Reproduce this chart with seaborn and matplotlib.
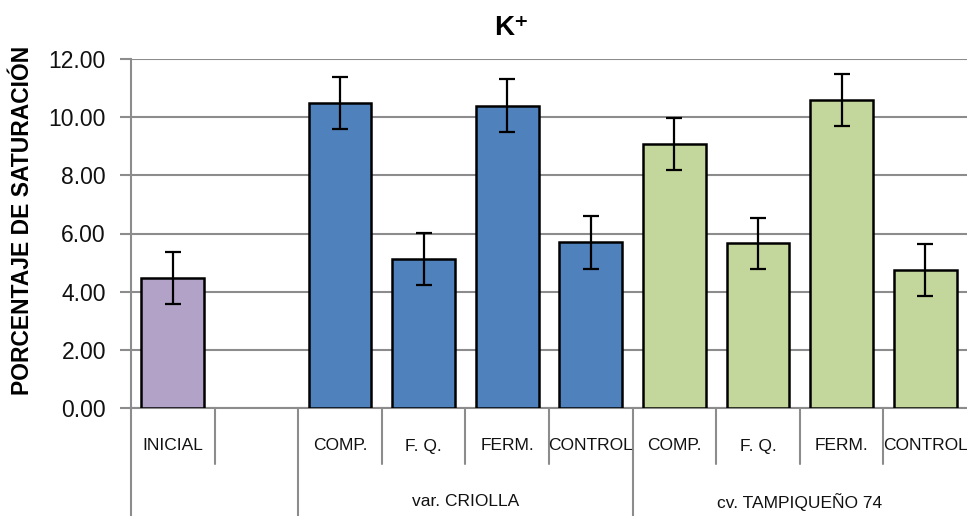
import matplotlib
matplotlib.use("Agg")
import matplotlib.pyplot as plt
import matplotlib.transforms as mtransforms
import seaborn as sns
import pandas as pd
import numpy as np

# ---- data ----
categories = ["INICIAL", "", "COMP.", "F. Q.", "FERM.", "CONTROL", "COMP.", "F. Q.", "FERM.", "CONTROL"]
groups = ["", "", "var. CRIOLLA", "var. CRIOLLA", "var. CRIOLLA", "var. CRIOLLA",
          "cv. TAMPIQUEÑO 74", "cv. TAMPIQUEÑO 74", "cv. TAMPIQUEÑO 74", "cv. TAMPIQUEÑO 74"]
values = [4.47, np.nan, 10.49, 5.13, 10.40, 5.70, 9.09, 5.66, 10.58, 4.75]
errors = [0.89, np.nan, 0.90, 0.90, 0.90, 0.91, 0.89, 0.89, 0.90, 0.90]
colors = ["#B3A2C7", "#FFFFFF", "#4F81BD", "#4F81BD", "#4F81BD", "#4F81BD",
          "#C3D69B", "#C3D69B", "#C3D69B", "#C3D69B"]
yticks = [0, 2, 4, 6, 8, 10, 12]
title = "K\u207A"
ylabel = "PORCENTAJE DE SATURACIÓN"

sns.set_theme(style="white")
plt.rcParams["font.family"] = ["Liberation Sans", "DejaVu Sans"]

keys = [f"{g}|{c}|{i}" for i, (g, c) in enumerate(zip(groups, categories))]
df = pd.DataFrame({"key": keys, "value": values})
df_plot = df.dropna()
palette = {k: col for k, col in zip(keys, colors)}

fig = plt.figure(figsize=(9.67, 5.16), dpi=100)
ax = fig.add_axes([131 / 967, 1 - 408 / 516, (967 - 131) / 967, (408 - 59) / 516])

sns.barplot(data=df_plot, x="key", y="value", hue="key", order=keys, palette=palette,
            width=0.75, errorbar=None, legend=False, edgecolor="black", linewidth=1.8,
            saturation=1, ax=ax, zorder=3)

xs = np.arange(len(keys))
mask = ~np.isnan(np.array(values))
ax.errorbar(xs[mask], np.array(values)[mask], yerr=np.array(errors)[mask], fmt="none",
            ecolor="black", elinewidth=1.6, capsize=6, capthick=1.6, zorder=4)

ax.set_xlim(-0.5, len(keys) - 0.5)
ax.set_ylim(0, 12)
ax.set_yticks(yticks)
ax.set_yticklabels([f"{t:.2f}" for t in yticks], fontsize=16.5, color="#111111")
ax.yaxis.grid(True, color="#8c8c8c", linewidth=1.5, zorder=0)
ax.set_axisbelow(True)
ax.tick_params(axis="y", which="both", left=True, length=8, width=1.5, color="#8c8c8c", pad=10)
ax.set_xticks([])
ax.set_xlabel("")
ax.set_ylabel(ylabel, fontsize=16.5, fontweight="bold", color="black")
ax.yaxis.set_label_coords(-0.116, 0.536)
for s in ["top", "right"]:
    ax.spines[s].set_visible(False)
ax.spines["left"].set_color("#8c8c8c")
ax.spines["left"].set_linewidth(1.5)
ax.spines["bottom"].set_color("#8c8c8c")
ax.spines["bottom"].set_linewidth(1.5)

ax.set_title(title, fontsize=20, fontweight="bold", pad=17, x=0.455, color="black",
             family=["Liberation Sans", "DejaVu Sans"])

trans = mtransforms.blended_transform_factory(ax.transData, ax.transAxes)
h = 408 - 59
y_cat = -38 / h
y_short = -56 / h
y_grp = -94 / h
y_long = -108 / h

for i, c in enumerate(categories):
    ax.text(i, y_cat, c, transform=trans, ha="center", va="center", fontsize=12.5,
            color="#111111")

# separators
for b in range(len(keys)):
    x = b - 0.5
    is_group_boundary = (b == 0) or (groups[b] != groups[b - 1])
    ax.plot([x, x], [0, y_long if is_group_boundary else y_short], transform=trans,
            color="#8c8c8c", linewidth=1.5, clip_on=False)

# group labels
seen = []
for g in groups:
    if g and g not in seen:
        seen.append(g)
for g in seen:
    idx = [i for i, gg in enumerate(groups) if gg == g]
    ax.text(np.mean(idx), y_grp, g, transform=trans, ha="center", va="center",
            fontsize=12.5, color="#111111")

fig.savefig("out.png", dpi=100)
